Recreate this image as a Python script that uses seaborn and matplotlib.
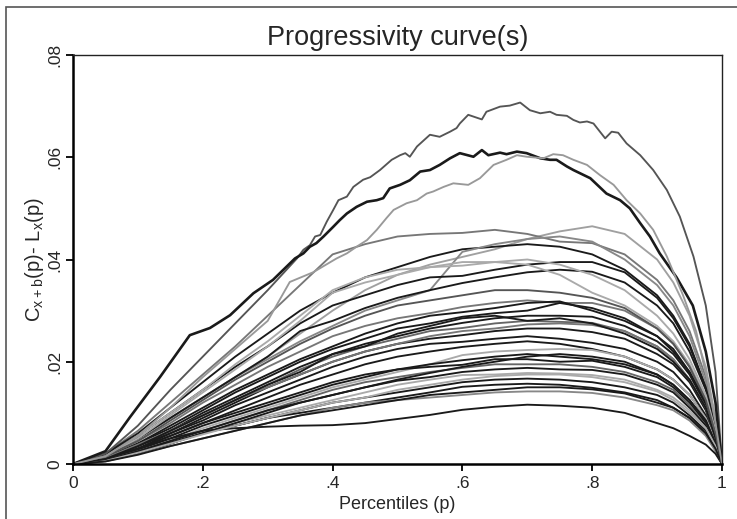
import numpy as np
import pandas as pd
import matplotlib
matplotlib.use("Agg")
import matplotlib.pyplot as plt
from matplotlib.patches import Rectangle
import seaborn as sns

# Common percentile grid (x values) for most curves
percentiles = [0, .05, .1, .15, .2, .25, .3, .35, .4, .45, .5, .55, .6, .65,
               .7, .75, .8, .85, .9, .925, .95, .975, .99, 1]

# The three highest curves, read in finer detail (own x positions)
p_A = [0, .05, .1, .15, .2, .25, .3, .345, .355, .365, .373, .381, .391, .401, .409, .422,
       .432, .447, .458, .473, .491, .504, .512, .519, .530, .550, .565, .581, .591, .596,
       .609, .630, .637, .658, .673, .689, .704, .720, .735, .745, .761, .771, .781, .792,
       .802, .820, .830, .840, .853, .874, .894, .915, .935, .956, .975, .99, 1]
curve_A = [0, 2, 7.5, 14.5, 21, 27.5, 34, 40.2, 41.9, 42.8, 44.5, 44.8, 47.4, 49.7, 51.6, 52.3,
           54.2, 55.6, 56.1, 57.5, 59.5, 60.4, 60.8, 60.1, 62.1, 64.4, 64.0, 65.0, 65.7, 66.6,
           68.3, 67.4, 68.9, 69.9, 70.1, 70.7, 69.2, 68.6, 68.9, 68.3, 68.1, 67.3, 66.8, 67.0,
           66.6, 63.7, 65.0, 64.8, 62.7, 60.4, 57.5, 53.6, 48.4, 40.6, 31, 18, 0]

p_B = [0, .05, .088, .134, .18, .211, .242, .278, .308, .342, .355, .365, .375, .386, .401,
       .411, .422, .437, .453, .468, .478, .488, .504, .519, .535, .550, .565, .581, .596,
       .617, .630, .640, .658, .668, .684, .699, .720, .735, .745, .761, .771, .797, .822,
       .843, .858, .874, .889, .904, .93, .955, .975, .99, 1]
curve_B = [0, 2.5, 9.2, 17, 25.2, 26.6, 29.1, 33.4, 36, 40.2, 41.2, 42.5, 43.2, 44.5, 46.4,
           47.7, 49.0, 50.3, 51.3, 51.6, 52.0, 53.9, 54.6, 55.5, 57.2, 57.5, 58.5, 59.8, 60.8,
           60.1, 61.4, 60.4, 60.9, 60.6, 61.1, 60.8, 59.8, 59.5, 59.5, 58.2, 57.5, 55.9, 52.9,
           51.6, 50.0, 47.1, 44.5, 41.2, 36.5, 31, 22, 12, 0]

p_C = [0, .05, .1, .15, .2, .25, .3, .334, .37, .406, .422, .437, .453, .468, .483, .494,
       .514, .530, .545, .555, .571, .586, .609, .627, .648, .668, .684, .699, .725, .740,
       .755, .771, .792, .812, .833, .853, .874, .894, .915, .94, .96, .98, .99, 1]
curve_C = [0, 1.5, 5.5, 11, 17, 22.5, 28, 35.6, 37.5, 40.2, 41.2, 42.5, 43.8, 45.8, 48.1, 49.7,
           51.0, 51.6, 52.9, 53.3, 54.2, 54.9, 54.6, 55.9, 58.5, 59.5, 60.4, 60.1, 59.8, 60.6,
           60.4, 59.5, 58.5, 56.5, 54.6, 51.6, 49.0, 45.8, 40.6, 33, 26, 15, 8, 0]

# Remaining curves on the common grid, values in thousandths
curve_D = [0, 1.5, 5, 9, 13, 17, 21, 25.5, 30, 34, 37, 39, 40.5, 42, 44, 45.5, 46.5, 45, 40, 35.5, 29, 19, 9, 0]
curve_E = [0, 2, 6.5, 12, 17.5, 23, 29, 35, 41, 43, 44.5, 45, 45.2, 45.8, 45, 43.5, 43.2, 41, 36, 32, 26, 17, 8, 0]
curve_F = [0, 2, 6, 11, 16, 21, 25.5, 30, 33.5, 36.5, 38.5, 40.5, 42, 42.5, 43, 42.5, 41, 38, 33, 29, 23.5, 15, 7, 0]
curve_G = [0, 1.5, 5, 9, 13, 17, 20.5, 24, 27, 30, 32, 34, 41.5, 43, 44, 44.5, 43.5, 40, 35, 31, 25, 16, 7.5, 0]
curve_H = [0, 1.8, 5.5, 10, 14.5, 19, 23, 27.5, 31, 33, 35, 36.5, 36.8, 38, 39, 39.5, 39.5, 37.5, 32.5, 28.5, 23, 15, 7, 0]
curve_I = [0, 1.5, 5, 9, 13, 17, 21, 26, 28, 30.5, 32.5, 34, 35.4, 36.5, 37.5, 38, 37.6, 35.5, 31, 27.5, 22, 14.5, 7, 0]
curve_J = [0, 1.5, 5, 9.5, 14, 18.5, 23, 28, 33.5, 35.5, 37, 38.5, 39.5, 39.5, 39, 37, 33.5, 31, 27, 24, 19.5, 13, 6, 0]
curve_K = [0, 1.5, 4.5, 8, 12, 15.5, 19, 22, 25, 27, 28.5, 29.5, 30.7, 31.5, 32, 31.5, 31.5, 30, 26.5, 23.5, 19, 12.5, 6, 0]
curve_L = [0, 1.2, 4, 7.5, 11, 14.5, 17.5, 20.5, 23, 25.5, 27.5, 29, 29.7, 30.5, 31.5, 31.8, 30, 28, 25, 22.5, 18, 12, 6, 0]
curve_M = [0, 1.2, 4, 7, 10.5, 14, 17, 20, 22.5, 24.5, 26.5, 27.5, 28.8, 29.5, 30, 31.5, 30.5, 28.5, 25, 22, 18, 12, 5.5, 0]
curve_N = [0, 1, 3.5, 6.5, 10, 13, 16, 19, 21.5, 23.5, 25, 26.5, 27.6, 28.5, 29, 29, 28.8, 27, 24, 21.5, 17.5, 11.5, 5.5, 0]
curve_O = [0, 1, 3.5, 6.5, 9.5, 12.5, 15.5, 18.5, 21, 23, 24.5, 26, 26.6, 27.5, 28, 27.8, 27.6, 26, 23, 20.5, 16.5, 11, 5, 0]
curve_P = [0, 1, 3.5, 6, 9, 12, 15, 17.5, 20, 22, 23.5, 24.5, 25.2, 26, 26.5, 26.5, 25.8, 24.5, 21.5, 19.5, 16, 10.5, 5, 0]
curve_Q = [0, 1, 3, 6, 8.5, 11.5, 14, 16.5, 19, 21, 22.5, 23.5, 23.9, 24.5, 25, 24.5, 23.7, 22.5, 20, 18, 14.5, 9.5, 4.5, 0]
curve_R = [0, 0.8, 3, 5.5, 8, 10.5, 13, 15.5, 17.5, 19.5, 21, 22, 22.9, 23.5, 24, 23.5, 22.5, 21, 18.5, 16.5, 13.5, 9, 4.5, 0]
curve_S = [0, 0.8, 2.5, 4.5, 7, 9, 11, 13, 15, 16.5, 18, 19.5, 21.3, 22, 22.3, 22.5, 22.3, 21, 18.5, 16.5, 13.5, 9, 4.5, 0]
curve_T = [0, 0.8, 2.8, 5, 7.5, 9.5, 11.5, 13.5, 15.5, 17, 18.5, 19.5, 20.3, 21, 21.5, 21, 20.5, 19.5, 17.5, 15.5, 12.5, 8.5, 4, 0]
curve_U = [0, 1, 3, 5.5, 8, 10, 12, 14, 16, 17.5, 18.5, 19, 19.4, 20.5, 20.5, 20, 20.2, 19, 17, 15, 12, 8, 4, 0]
curve_V = [0, 0.8, 2.5, 4.5, 6.5, 8.5, 10.5, 12.5, 14.5, 16, 17, 18, 18.8, 19.5, 19.5, 19.5, 19, 18, 16, 14.5, 11.5, 7.5, 3.5, 0]
curve_W = [0, 0.7, 2.5, 4.5, 6.5, 8.5, 10.5, 12, 13.5, 15, 16.3, 17, 18, 18.5, 18.8, 18.5, 18.4, 17.5, 15.5, 14, 11, 7.5, 3.5, 0]
curve_X = [0, 0.6, 2, 4, 6, 8, 9.5, 11, 12.5, 14, 15.5, 16.5, 17.4, 17.5, 17.8, 17.7, 17.4, 16.5, 14.5, 13, 10.5, 7, 3.5, 0]
curve_Y = [0, 0.6, 2, 4, 6, 7.5, 9, 10.5, 12, 13, 14, 15, 16, 16.5, 16.7, 16.5, 16, 15, 13.5, 12, 9.5, 6.5, 3, 0]
curve_Z = [0, 0.7, 2.3, 4.2, 6, 7.5, 9, 10, 11, 12, 13, 14, 15.1, 15.5, 15.7, 15.5, 14.9, 14, 12.5, 11, 9, 6, 3, 0]
curve_AA = [0, 0.5, 2, 3.5, 5, 6.5, 8, 9.5, 11, 12, 12.5, 13, 13.5, 14, 14.2, 14.2, 13.9, 13, 11.5, 10.5, 8.5, 5.5, 2.5, 0]
curve_AB = [0, 1, 3, 5, 6.5, 7, 7.3, 7.5, 7.6, 8, 8.8, 9.6, 10.6, 11.2, 11.6, 11.4, 11, 10, 8, 7, 5.5, 3.8, 2, 0]
curve_AC = [0, 1.5, 5.5, 10, 14.5, 19.5, 24, 29, 34, 36.5, 38, 38.5, 38.8, 39.5, 40, 39, 37, 34, 29, 25.5, 20.5, 13.5, 6.5, 0]
curve_AD = [0, 1.2, 3.8, 6.5, 9.5, 12.5, 15, 17.5, 20, 22, 23.5, 25, 26, 26.5, 27.3, 27.5, 27.2, 26, 23, 20.5, 16.5, 11, 5, 0]
curve_AE = [0, 0.6, 2.2, 4, 6, 8, 10, 12, 13.5, 15, 16.5, 17.8, 19, 20, 21, 21.5, 21, 20, 17.5, 15.5, 12.5, 8.5, 4, 0]
curve_AF = [0, 0.6, 2.2, 4, 5.8, 7.5, 9, 10.5, 12, 13, 14.5, 15.5, 16.5, 17.2, 17.5, 17.5, 17, 16, 14.2, 12.5, 10, 7, 3.5, 0]
curve_AG = [0, 1, 3.5, 6.5, 9.5, 12.5, 15.5, 18, 21.5, 23, 25.5, 27, 28.5, 29, 28, 28.5, 27.5, 25.5, 22.5, 20, 16.5, 11, 5, 0]
curve_AH = [0, 1.5, 4.5, 8.5, 12.5, 16.5, 20, 23.5, 26.5, 29, 31, 32, 33, 34, 34, 33.5, 32.5, 30.5, 26.5, 23.5, 19, 12.5, 6, 0]
curve_AI = [0, 0.5, 1.8, 3.5, 5, 6.5, 8, 9.5, 10.5, 11.5, 12.5, 13.5, 14, 14.5, 15, 15, 14.6, 13.8, 12, 11, 9, 6, 3, 0]

grid_curves = {
    "D": curve_D, "E": curve_E, "F": curve_F, "G": curve_G, "H": curve_H,
    "I": curve_I, "J": curve_J, "K": curve_K, "L": curve_L, "M": curve_M,
    "N": curve_N, "O": curve_O, "P": curve_P, "Q": curve_Q, "R": curve_R,
    "S": curve_S, "T": curve_T, "U": curve_U, "V": curve_V, "W": curve_W,
    "X": curve_X, "Y": curve_Y, "Z": curve_Z, "AA": curve_AA, "AB": curve_AB,
    "AC": curve_AC, "AD": curve_AD, "AE": curve_AE, "AF": curve_AF, "AG": curve_AG,
    "AH": curve_AH, "AI": curve_AI,
}

BLK = "#1a1a1a"
colors = {
    "A": "#555555", "B": BLK, "C": "#999999", "D": "#a0a0a0", "E": "#777777",
    "F": BLK, "G": "#888888", "H": BLK, "I": BLK, "J": "#aaaaaa",
    "K": "#777777", "L": BLK, "M": BLK, "N": BLK, "O": "#666666",
    "P": BLK, "Q": BLK, "R": BLK, "S": "#aaaaaa", "T": BLK,
    "U": BLK, "V": "#666666", "W": BLK, "X": "#aaaaaa", "Y": BLK,
    "Z": BLK, "AA": "#888888", "AB": BLK, "AC": "#aaaaaa", "AD": "#777777",
    "AE": BLK, "AF": "#aaaaaa", "AG": BLK, "AH": "#555555", "AI": BLK,
}

x_ticks = [0, .2, .4, .6, .8, 1]
x_tick_labels = ["0", ".2", ".4", ".6", ".8", "1"]
y_ticks = [0, .02, .04, .06, .08]
y_tick_labels = ["0", ".02", ".04", ".06", ".08"]

# Long-form table for seaborn
frames = []
for name, vals in grid_curves.items():
    frames.append(pd.DataFrame({"p": percentiles, "v": np.array(vals) / 1000.0, "curve": name}))
for name, px, vals in [("A", p_A, curve_A), ("B", p_B, curve_B), ("C", p_C, curve_C)]:
    frames.append(pd.DataFrame({"p": px, "v": np.array(vals) / 1000.0, "curve": name}))
df = pd.concat(frames, ignore_index=True)

sns.set_style("ticks")
plt.rcParams["font.family"] = ["Liberation Sans", "DejaVu Sans"]
plt.rcParams["mathtext.default"] = "regular"

fig = plt.figure(figsize=(7.37, 5.19), dpi=100)
ax = fig.add_axes([73 / 737, 1 - 464 / 519, 649 / 737, 409 / 519])

for name in df["curve"].unique():
    sub = df[df["curve"] == name]
    lw = 1.9 if name == "B" else 1.35
    sns.lineplot(data=sub, x="p", y="v", ax=ax, color=colors[name], lw=lw,
                 sort=False, estimator=None)

ax.set_xlim(0, 1)
ax.set_ylim(0, 0.08)
ax.set_xticks(x_ticks)
ax.set_xticklabels(x_tick_labels, fontsize=12.5)
ax.set_yticks(y_ticks)
ax.set_yticklabels(y_tick_labels, fontsize=12.5, rotation=90, va="center")
ax.tick_params(axis="both", direction="out", length=5, width=1.3, color="black")
ax.tick_params(axis="y", pad=3)
ax.tick_params(axis="x", pad=4)

for side in ["left", "bottom"]:
    ax.spines[side].set_linewidth(1.8)
    ax.spines[side].set_color("black")
for side in ["top", "right"]:
    ax.spines[side].set_visible(True)
    ax.spines[side].set_linewidth(1.0)
    ax.spines[side].set_color("#222222")

ax.set_title("Progressivity curve(s)", fontsize=19.5, pad=7)
ax.set_xlabel("Percentiles (p)", fontsize=13, labelpad=3)
ax.set_ylabel(r"C$_{x+b}$(p)- L$_{x}$(p)", fontsize=14.5, labelpad=0.5)

fig.patches.append(Rectangle((6 / 737, -0.05), 1.2, 1 - 7 / 519 + 0.05,
                             transform=fig.transFigure, fill=False,
                             ec="#555555", lw=1.2))

fig.savefig("out.png", dpi=100)
